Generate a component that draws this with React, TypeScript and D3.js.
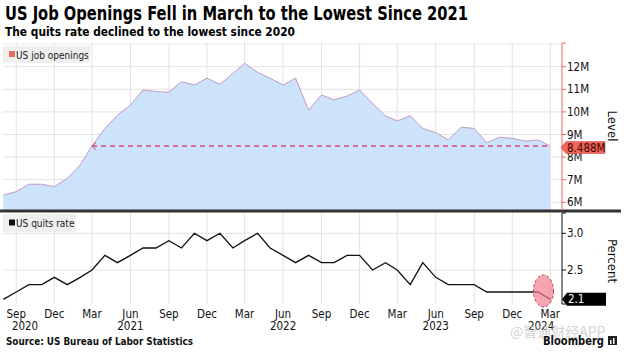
import React from "react";
import * as d3 from "d3";

const months: string[] = [
  "2020-08","2020-09","2020-10","2020-11","2020-12",
  "2021-01","2021-02","2021-03","2021-04","2021-05","2021-06","2021-07","2021-08","2021-09","2021-10","2021-11","2021-12",
  "2022-01","2022-02","2022-03","2022-04","2022-05","2022-06","2022-07","2022-08","2022-09","2022-10","2022-11","2022-12",
  "2023-01","2023-02","2023-03","2023-04","2023-05","2023-06","2023-07","2023-08","2023-09","2023-10","2023-11","2023-12",
  "2024-01","2024-02","2024-03",
];
const jobOpenings: number[] = [
  6.32, 6.47, 6.8, 6.8, 6.69,
  7.06, 7.65, 8.49, 9.27, 9.86, 10.3, 10.97, 10.9, 10.87, 11.34, 11.19, 11.49,
  11.22, 11.7, 12.15, 11.75, 11.49, 11.19, 11.49, 10.08, 10.75, 10.53, 10.7, 10.97,
  10.38, 9.82, 9.6, 9.83, 9.27, 9.08, 8.76, 9.32, 9.27, 8.64, 8.88, 8.83,
  8.71, 8.76, 8.488,
];
const quitsRate: number[] = [
  2.1, 2.2, 2.3, 2.3, 2.4,
  2.3, 2.4, 2.5, 2.7, 2.6, 2.7, 2.8, 2.8, 2.9, 2.8, 3.0, 2.9,
  3.0, 2.8, 2.9, 3.0, 2.8, 2.7, 2.6, 2.7, 2.6, 2.6, 2.7, 2.7,
  2.5, 2.6, 2.5, 2.3, 2.6, 2.4, 2.3, 2.3, 2.3, 2.2, 2.2, 2.2,
  2.2, 2.2, 2.1,
];
const levelTicks: number[] = [6, 7, 8, 9, 10, 11, 12];
const levelTickLabels: string[] = ["6M", "7M", "8M", "9M", "10M", "11M", "12M"];
const percentTicks: number[] = [2.5, 3.0];
const percentTickLabels: string[] = ["2.5", "3.0"];
const xTickMonths: string[] = [
  "2020-09","2020-12","2021-03","2021-06","2021-09","2021-12","2022-03","2022-06",
  "2022-09","2022-12","2023-03","2023-06","2023-09","2023-12","2024-03",
];
const xTickLabels: string[] = ["Sep","Dec","Mar","Jun","Sep","Dec","Mar","Jun","Sep","Dec","Mar","Jun","Sep","Dec","Mar"];
const yearLabels: string[] = ["2020", "2021", "2022", "2023", "2024"];
const yearAnchors: string[] = ["2020-09-22", "2021-06-01", "2022-06-01", "2023-06-01", "2024-02-08"];
const lastOpeningsLabel = "8.488M";
const lastQuitsLabel = "2.1";
const refLevel = 8.488;
const refStart = "2021-03";

const FONT = "'DejaVu Sans Condensed', 'DejaVu Sans', sans-serif";
const parse = d3.timeParse("%Y-%m");
const parseDay = d3.timeParse("%Y-%m-%d");

export default function App() {
  const W = 627, H = 352;
  const dates = months.map((m) => parse(m) as Date);
  const x = d3.scaleTime().domain([dates[0], dates[dates.length - 1]]).range([3.3, 550.3]);
  const yTop = d3.scaleLinear().domain([6, 12]).range([202.3, 66.7]);
  const yBot = d3.scaleLinear().domain([2.5, 3.0]).range([270, 233.3]);
  const axisX = 562;
  const topY0 = 43, topY1 = 210.5;
  const botY0 = 213, botY1 = 304;
  const plotX0 = 3;

  const area = d3.area<number>()
    .x((_, i) => x(dates[i]))
    .y0(topY1)
    .y1((d) => yTop(d));
  const lineTop = d3.line<number>().x((_, i) => x(dates[i])).y((d) => yTop(d));
  const lineBot = d3.line<number>().x((_, i) => x(dates[i])).y((d) => yBot(d));

  const tickDates = xTickMonths.map((m) => parse(m) as Date);
  const refX0 = x(parse(refStart) as Date);
  const refY = yTop(refLevel);
  const lastX = x(dates[dates.length - 1]);
  const lastQY = yBot(quitsRate[quitsRate.length - 1]);

  return (
    <svg width={W} height={H} style={{ position: "absolute", left: 0, top: 0, background: "#fff" }} fontFamily={FONT}>
      <rect x={0} y={0} width={W} height={H} fill="#fff" />
      {/* titles */}
      <text x={5} y={20} fontSize={19.5} fontWeight="bold" fill="#000" textLength={463} lengthAdjust="spacingAndGlyphs"
        fontFamily="'DejaVu Sans', sans-serif">US Job Openings Fell in March to the Lowest Since 2021</text>
      <text x={5} y={36} fontSize={13} fontWeight="bold" fill="#000" textLength={290} lengthAdjust="spacingAndGlyphs"
        fontFamily="'DejaVu Sans', sans-serif">The quits rate declined to the lowest since 2020</text>

      {/* grid top */}
      {tickDates.map((d, i) => (
        <line key={"vgt" + i} x1={x(d)} x2={x(d)} y1={topY0} y2={topY1} stroke="#e2e2e2" strokeWidth={1} />
      ))}
      {tickDates.map((d, i) => (
        <line key={"vgb" + i} x1={x(d)} x2={x(d)} y1={botY0} y2={botY1} stroke="#e2e2e2" strokeWidth={1} />
      ))}
      <line x1={plotX0} x2={axisX} y1={topY0 + 1} y2={topY0 + 1} stroke="#d8d8d8" strokeDasharray="1,1" />
      {levelTicks.map((t, i) => (
        <line key={"hgt" + i} x1={plotX0} x2={axisX} y1={yTop(t)} y2={yTop(t)} stroke="#e2e2e2" strokeWidth={1} />
      ))}
      {percentTicks.map((t, i) => (
        <line key={"hgb" + i} x1={plotX0} x2={axisX} y1={yBot(t)} y2={yBot(t)} stroke="#e2e2e2" strokeWidth={1} />
      ))}

      {/* area */}
      <path d={area(jobOpenings) || ""} fill="#cce3fb" />
      <path d={lineTop(jobOpenings) || ""} fill="none" stroke="#c09ac4" strokeWidth={1} />

      {/* reference dashed line */}
      <line x1={refX0} x2={lastX} y1={refY} y2={refY} stroke="#d94a7a" strokeWidth={1.5} strokeDasharray="5,4" />
      <path d={`M${refX0 + 4},${refY - 3.5} L${refX0},${refY} L${refX0 + 4},${refY + 3.5}`} fill="none" stroke="#d94a7a" strokeWidth={1} />

      {/* separator */}
      <line x1={0} x2={621} y1={211} y2={211} stroke="#333" strokeWidth={3} />

      {/* right axis top */}
      <line x1={axisX} x2={axisX} y1={topY0} y2={topY1} stroke="#e36a6a" strokeWidth={1} />
      <line x1={axisX} x2={axisX + 4} y1={topY0} y2={topY0} stroke="#e36a6a" />
      {levelTicks.map((t, i) => (
        <g key={"lt" + i}>
          <line x1={axisX} x2={axisX + 4} y1={yTop(t)} y2={yTop(t)} stroke="#e36a6a" />
          <text x={axisX + 5} y={yTop(t) + 4} fontSize={11.5} fill="#111">{levelTickLabels[i]}</text>
        </g>
      ))}
      <text transform={`translate(608,126) rotate(90)`} textAnchor="middle" fontSize={13} fill="#111">Level</text>

      {/* last value label top */}
      <path d={`M${axisX - 1},${refY + 1.5} L${axisX + 4},${refY - 4.5} L${axisX + 43},${refY - 4.5} L${axisX + 43},${refY + 7.5} L${axisX + 4},${refY + 7.5} Z`}
        fill="#f0645a" stroke="#c84040" strokeWidth={0.5} />
      <text x={axisX + 5} y={refY + 6} fontSize={11.5} fill="#3a0505">{lastOpeningsLabel}</text>

      {/* legends */}
      <rect x={3} y={46} width={87} height={17} fill="#efefef" />
      <rect x={9} y={51} width={6} height={6} fill="#ea6a5e" />
      <text x={16} y={58.5} fontSize={10} fill="#222">US job openings</text>
      <rect x={3} y={214} width={73} height={18} fill="#efefef" />
      <rect x={9} y={219.5} width={6} height={6} fill="#111" />
      <text x={16} y={227} fontSize={10} fill="#222">US quits rate</text>

      {/* quits line */}
      <path d={lineBot(quitsRate) || ""} fill="none" stroke="#111" strokeWidth={1.3} />
      <ellipse cx={543.5} cy={291} rx={10} ry={16} fill="#f2808e" fillOpacity={0.7} stroke="#b04060" strokeWidth={1} strokeDasharray="3,2" />

      {/* right axis bottom */}
      <line x1={axisX} x2={axisX} y1={botY0} y2={botY1} stroke="#111" strokeWidth={1} />
      <line x1={axisX} x2={axisX + 4} y1={botY0} y2={botY0} stroke="#111" />
      <line x1={axisX} x2={axisX + 4} y1={botY1} y2={botY1} stroke="#111" />
      {percentTicks.map((t, i) => (
        <g key={"pt" + i}>
          <line x1={axisX} x2={axisX + 4} y1={yBot(t)} y2={yBot(t)} stroke="#111" />
          <text x={axisX + 5} y={yBot(t) + 4} fontSize={11.5} fill="#111">{percentTickLabels[i]}</text>
        </g>
      ))}
      <text transform={`translate(608,261) rotate(90)`} textAnchor="middle" fontSize={13} fill="#111">Percent</text>
      <path d={`M${axisX},${lastQY} L${axisX + 5},${lastQY - 6.5} L${axisX + 44},${lastQY - 6.5} L${axisX + 44},${lastQY + 6.5} L${axisX + 5},${lastQY + 6.5} Z`} fill="#000" />
      <text x={axisX + 6} y={lastQY + 4} fontSize={11.5} fill="#fff">{lastQuitsLabel}</text>

      {/* x axis labels */}
      {tickDates.map((d, i) => (
        <text key={"xl" + i} x={x(d)} y={318} textAnchor="middle" fontSize={11.5} fill="#111">{xTickLabels[i]}</text>
      ))}
      {yearLabels.map((y, i) => (
        <text key={"yl" + i} x={x(parseDay(yearAnchors[i]) as Date)} y={330} textAnchor="middle" fontSize={11.5} fill="#111">{y}</text>
      ))}

      {/* footer */}
      <text x={6} y={345} fontSize={10} fontWeight="bold" fill="#111" fontFamily="'DejaVu Sans', sans-serif" textLength={187} lengthAdjust="spacingAndGlyphs">Source: US Bureau of Labor Statistics</text>
      <text x={510} y={337} fontSize={14} fill="#c8c8c8" fillOpacity={0.8} fontFamily="'Noto Sans CJK SC', sans-serif">@智通财经APP</text>
      <text x={543} y={345} fontSize={11.5} fontWeight="bold" fill="#111" fontFamily="'DejaVu Sans', sans-serif" textLength={61} lengthAdjust="spacingAndGlyphs">Bloomberg</text>
      <rect x={608} y={336} width={9} height={9} fill="#222" />
      <rect x={610} y={340} width={1.5} height={4} fill="#fff" />
      <rect x={613} y={338} width={1.5} height={6} fill="#fff" />
    </svg>
  );
}
